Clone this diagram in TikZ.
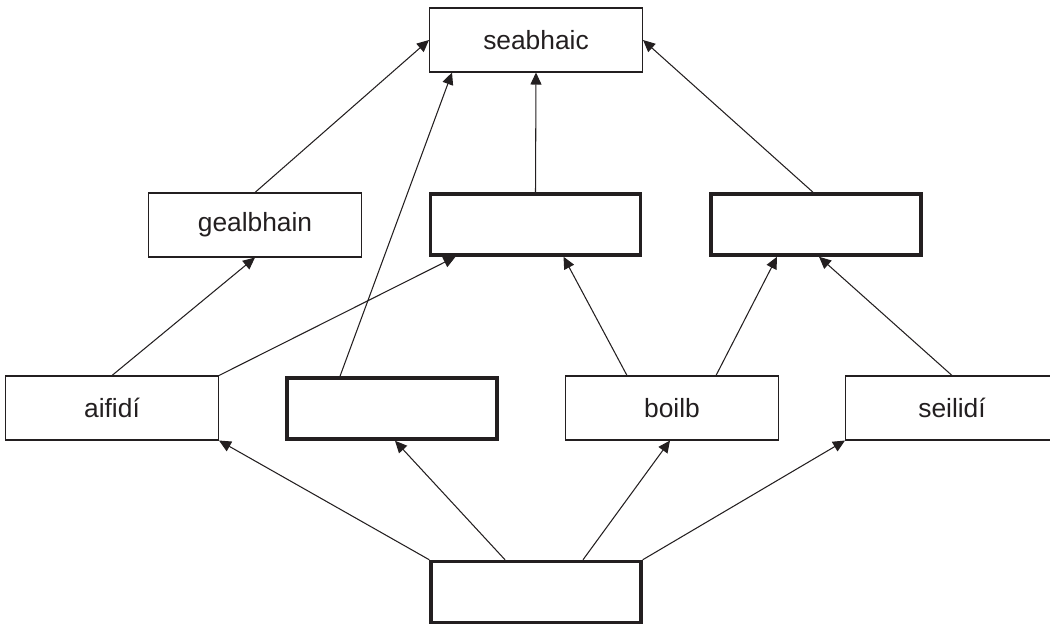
\documentclass[tikz,border=0pt]{standalone}
\usepackage{fontspec}
\setmainfont{Liberation Sans}
\usepackage{xcolor}
\usetikzlibrary{arrows.meta,calc}
\definecolor{ink}{RGB}{35,31,32}

\begin{document}
\begin{tikzpicture}[
        x=0.02cm, y=-0.02cm,
        every node/.style={font=\fontsize{15}{18}\selectfont, text=ink},
        box/.style={draw=ink, line width=0.6pt, fill=white, minimum width=4.26cm, minimum height=1.28cm, inner sep=0pt},
        blank/.style={box, line width=2pt, minimum width=4.2cm, minimum height=1.22cm},
        arrow/.style={draw=ink, line width=0.6pt, -{Triangle[length=0.24cm, width=0.22cm]}}
    ]
        \useasboundingbox (0,0) rectangle (1050,625);

        % Top box
        \node[box] (seabhaic) at (536,40) {seabhaic};

        % Middle row
        \node[box] (gealbhain) at (255,225) {gealbhain};
        \node[blank] (midleft) at (535.5,224.5) {};
        \node[blank] (midright) at (816,224.5) {};

        % Lower row
        \node[box] (aifidi) at (112,408) {aifidí};
        \node[blank] (lowblank) at (392,408.5) {};
        \node[box] (boilb) at (672,408) {boilb};
        \node[box] (seilidi) at (952,408) {seilidí};

        % Bottom box
        \node[blank] (bottom) at (536,592) {};

        % Arrows to the top box
        \draw[arrow] (gealbhain.north) -- (seabhaic.west);
        \draw[arrow] ($(lowblank.north)+(-52,0)$) -- ($(seabhaic.south)+(-84,0)$);
        \draw[arrow] (midleft.north) -- (seabhaic.south);
        \draw[arrow] ($(midright.north)+(-3,0)$) -- (seabhaic.east);

        % Arrows to the middle row
        \draw[arrow] (aifidi.north) -- (gealbhain.south);
        \draw[arrow] (aifidi.north east) -- ($(midleft.south)+(-80,0)$);
        \draw[arrow] ($(boilb.north)+(-45,0)$) -- ($(midleft.south)+(28,0)$);
        \draw[arrow] ($(boilb.north)+(44,0)$) -- ($(midright.south)+(-39,0)$);
        \draw[arrow] (seilidi.north) -- ($(midright.south)+(3,0)$);

        % Arrows from the bottom box
        \draw[arrow] (bottom.north west) -- (aifidi.south east);
        \draw[arrow] ($(bottom.north)+(-31,0)$) -- ($(lowblank.south)+(3,0)$);
        \draw[arrow] ($(bottom.north)+(47,0)$) -- ($(boilb.south)+(-2,0)$);
        \draw[arrow] (bottom.north east) -- (seilidi.south west);
    \end{tikzpicture}
\end{document}
